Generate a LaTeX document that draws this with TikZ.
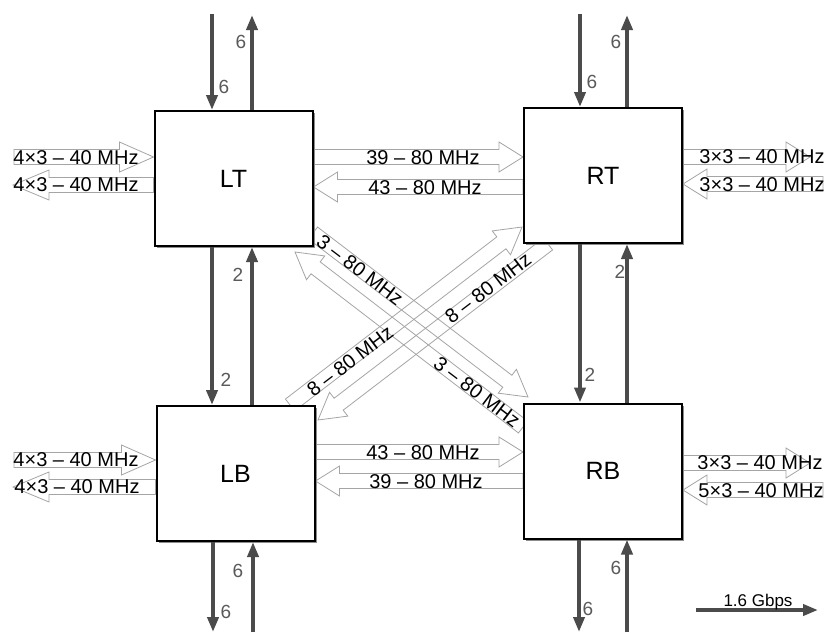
\documentclass[tikz,border=0pt]{standalone}
\usepackage{fontspec}
\setmainfont{Liberation Sans}
\usetikzlibrary{calc,arrows.meta,shadows}
\pgfdeclarelayer{bg}
\pgfsetlayers{bg,main}
\definecolor{dk}{RGB}{75,75,75}
\definecolor{lbl}{RGB}{90,90,90}
\definecolor{ol}{RGB}{165,165,165}
% block arrow: [head length]{start}{tip}{style}
\newcommand{\barrow}[4][24pt]{%
  \coordinate (baS) at (#2);
  \coordinate (baT) at (#3);
  \coordinate (baH) at ($(baT)!#1!(baS)$);
  \path[#4] ($(baS)!7.5pt!90:(baT)$) -- ($(baH)!7.5pt!90:(baT)$) -- ($(baH)!15pt!90:(baT)$) -- (baT)
     -- ($(baH)!15pt!-90:(baT)$) -- ($(baH)!7.5pt!-90:(baT)$) -- ($(baS)!7.5pt!-90:(baT)$) -- cycle;}
\begin{document}
\begin{tikzpicture}[x=1pt,y=-1pt,
  box/.style={draw=black, line width=2pt, fill=white, minimum width=158pt, minimum height=135pt,
    inner sep=0pt, font=\fontsize{25}{29}\selectfont,
    drop shadow={shadow xshift=2pt,shadow yshift=-2pt,fill=black!45,opacity=1}},
  darr/.style={draw=dk, line width=4.2pt, -{Triangle[length=15pt,width=11pt]}},
  num/.style={text=lbl, font=\fontsize{19}{21}\selectfont, inner sep=0pt},
  lab/.style={font=\fontsize{20}{24}\selectfont, inner sep=0pt},
  bfill/.style={fill=white},
  bline/.style={draw=ol, line width=0.8pt, line join=miter},
  bboth/.style={fill=white, draw=ol, line width=0.8pt, line join=miter}]
\useasboundingbox (0,0) rectangle (827,632);

% boxes
\node[box] (LT) at (233.5,178.5) {LT};
\node[box] (RT) at (603,175.5) {RT};
\node[box] (LB) at (235.5,473.5) {LB};
\node[box] (RB) at (603,471) {RB};

% helper rows
\foreach \yy in {157,184,185,187,452,460,463,481,487,490} {\coordinate (r\yy) at (0,\yy);}

% free ends
\coordinate (Lin1) at (14,157);  \coordinate (Lout1) at (13,185);
\coordinate (Rout1) at (810,157); \coordinate (Rin1) at (823,184);
\coordinate (Lin2) at (14,460);  \coordinate (Lout2) at (13,487);
\coordinate (Rout2) at (810,463); \coordinate (Rin2) at (823,490);
% diagonal ends
\coordinate (a1s) at (313,233); \coordinate (a1t) at (528,397);
\coordinate (a2s) at (523,427); \coordinate (a2t) at (295,252);
\coordinate (b1s) at (290,405); \coordinate (b1t) at (522,227);
\coordinate (b2s) at (548,244); \coordinate (b2t) at (318,420);

\begin{pgfonlayer}{bg}
\fill[white] (0,0) rectangle (827,632);
% horizontal block arrows
\barrow[34pt]{Lin1}{LT.west |- r157}{bboth}
\barrow[36pt]{LT.west |- r185}{Lout1}{bboth}
\barrow{LT.east |- r157}{RT.west |- r157}{bboth}
\barrow{RT.west |- r187}{LT.east |- r187}{bboth}
\barrow{RT.east |- r157}{Rout1}{bboth}
\barrow{Rin1}{RT.east |- r184}{bboth}
\barrow[34pt]{Lin2}{LB.west |- r460}{bboth}
\barrow[36pt]{LB.west |- r487}{Lout2}{bboth}
\barrow{LB.east |- r452}{RB.west |- r452}{bboth}
\barrow{RB.west |- r481}{LB.east |- r481}{bboth}
\barrow{RB.east |- r463}{Rout2}{bboth}
\barrow{Rin2}{RB.east |- r490}{bboth}
% diagonal block arrows: fills first, then outlines
\barrow[26pt]{a1s}{a1t}{bfill}
\barrow[26pt]{a2s}{a2t}{bfill}
\barrow[26pt]{b1s}{b1t}{bfill}
\barrow[26pt]{b2s}{b2t}{bfill}
\barrow[26pt]{a1s}{a1t}{bline}
\barrow[26pt]{a2s}{a2t}{bline}
\barrow[26pt]{b1s}{b1t}{bline}
\barrow[26pt]{b2s}{b2t}{bline}
\end{pgfonlayer}

% labels on block arrows
\node[lab] (h1) at (76,158) {4×3 -- 40 MHz};
\node[lab] (h2) at (76,185) {4×3 -- 40 MHz};
\node[lab] (h3) at (423,158) {39 -- 80 MHz};
\node[lab] (h4) at (425,188) {43 -- 80 MHz};
\node[lab] (h5) at (762,157) {3×3 -- 40 MHz};
\node[lab] (h6) at (762,185) {3×3 -- 40 MHz};
\node[lab] (h7) at (76,460) {4×3 -- 40 MHz};
\node[lab] (h8) at (77,487) {4×3 -- 40 MHz};
\node[lab] (h9) at (423,453) {43 -- 80 MHz};
\node[lab] (h10) at (426,482) {39 -- 80 MHz};
\node[lab] (h11) at (760,463) {3×3 -- 40 MHz};
\node[lab] (h12) at (761,491) {5×3 -- 40 MHz};
\node[lab, rotate=-37.3] (d1) at (360,270) {3 -- 80 MHz};
\node[lab, rotate=-37.3] (d2) at (477,392) {3 -- 80 MHz};
\node[lab, rotate=37.3] (d3) at (350,361) {8 -- 80 MHz};
\node[lab, rotate=37.3] (d4) at (488,288) {8 -- 80 MHz};

% vertical 1.6 Gbps links
\coordinate (tL1) at (212,14); \coordinate (tL2) at (252,15);
\coordinate (tR1) at (580,14); \coordinate (tR2) at (627,15);
\coordinate (bL1) at (213,632); \coordinate (bL2) at (253,632);
\coordinate (bR1) at (579,632); \coordinate (bR2) at (627,632);
\draw[darr] (tL1) -- (tL1 |- LT.north);
\draw[darr] (tL2 |- LT.north) -- (tL2);
\draw[darr] (tL1 |- LT.south) -- (tL1 |- LB.north);
\draw[darr] (tL2 |- LB.north) -- (tL2 |- LT.south);
\draw[darr] (bL1 |- LB.south) -- (bL1);
\draw[darr] (bL2) -- (bL2 |- LB.south);
\draw[darr] (tR1) -- (tR1 |- RT.north);
\draw[darr] (tR2 |- RT.north) -- (tR2);
\draw[darr] (tR1 |- RT.south) -- (tR1 |- RB.north);
\draw[darr] (tR2 |- RB.north) -- (tR2 |- RT.south);
\draw[darr] (bR1 |- RB.south) -- (bR1);
\draw[darr] (bR2) -- (bR2 |- RB.south);

% numbers
\node[num] (n1) at (241,42) {6};
\node[num] (n2) at (224,87) {6};
\node[num] (n3) at (238,275) {2};
\node[num] (n4) at (226,380) {2};
\node[num] (n5) at (238,571) {6};
\node[num] (n6) at (226,612) {6};
\node[num] (n7) at (616,42) {6};
\node[num] (n8) at (592,82) {6};
\node[num] (n9) at (620,272) {2};
\node[num] (n10) at (590,375) {2};
\node[num] (n11) at (616,568) {6};
\node[num] (n12) at (588,609) {6};

% legend
\coordinate (lg1) at (696,610); \coordinate (lg2) at (818,610);
\draw[darr] (lg1) -- (lg2);
\node[anchor=base, font=\fontsize{17}{20}\selectfont, inner sep=0pt] (lgt) at (758,606) {1.6 Gbps};
\end{tikzpicture}
\end{document}
